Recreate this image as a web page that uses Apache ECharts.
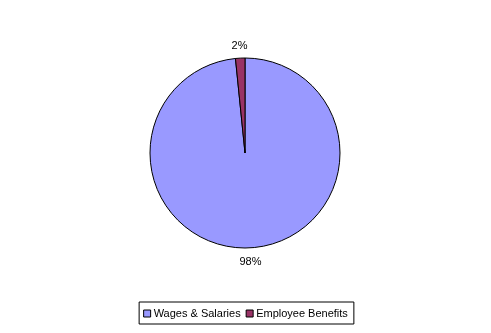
<!DOCTYPE html>
<html><head><meta charset="utf-8">
<script src="https://cdn.jsdelivr.net/npm/echarts@6/dist/echarts.min.js"></script>
<style>html,body{margin:0;padding:0;background:#fff}#c{width:491px;height:333px}</style>
</head><body><div id="c"></div>
<script>
var categories = ['Wages & Salaries', 'Employee Benefits'];
var values = [98.4, 1.6];
var labels = ['98%', '2%'];
var colors = ['#9999FF', '#993366'];

var chart = echarts.init(document.getElementById('c'), null, {renderer: 'canvas'});
var data = categories.map(function (n, i) { return {name: n, value: values[i], itemStyle: {color: colors[i]}}; });
var labelData = categories.map(function (n, i) { return {name: n, value: values[i], label: {formatter: labels[i]}}; });
chart.setOption({
  animation: false,
  textStyle: {fontFamily: 'Liberation Sans, Arial, sans-serif'},
  legend: {
    data: categories,
    bottom: 9,
    left: 'center',
    icon: 'rect',
    itemWidth: 7,
    itemHeight: 7,
    itemGap: 5,
    padding: [6, 6, 5, 4],
    borderColor: '#000',
    borderWidth: 1,
    itemStyle: {borderColor: '#000', borderWidth: 1},
    textStyle: {fontSize: 11, color: '#000', fontFamily: 'Liberation Sans, Arial, sans-serif', padding: [0, 0, 0, -2]}
  },
  series: [{
    type: 'pie',
    center: [245, 153],
    radius: [0, 95],
    startAngle: 90,
    clockwise: true,
    label: {show: false},
    labelLine: {show: false},
    itemStyle: {borderColor: '#000', borderWidth: 1},
    emphasis: {disabled: true},
    data: data
  }, {
    type: 'pie',
    center: [245, 154],
    radius: [95, 115],
    startAngle: 90,
    clockwise: true,
    silent: true,
    legendHoverLink: false,
    itemStyle: {color: 'transparent'},
    label: {show: true, position: 'inside', fontSize: 11, color: '#000', fontFamily: 'Liberation Sans, Arial, sans-serif'},
    labelLine: {show: false},
    data: labelData
  }]
});
</script></body></html>
